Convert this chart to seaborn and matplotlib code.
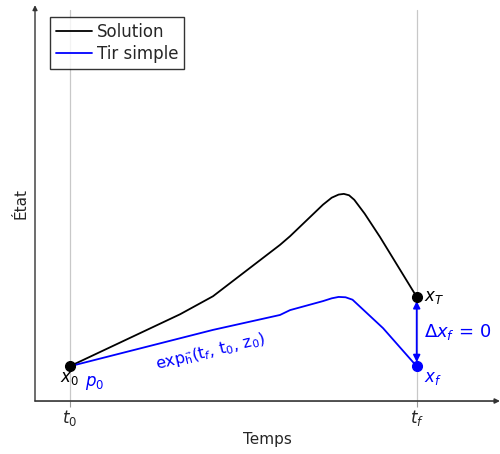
import numpy as np
import pandas as pd
import matplotlib
matplotlib.use("Agg")
import matplotlib.pyplot as plt
import seaborn as sns

# ---- data ----
sol_t = [1.0, 4.18, 5.13, 7.06, 7.35, 8.30, 8.55, 8.75, 8.90, 9.05, 9.20, 9.50, 9.94, 11.0]
sol_x = [1.0, 2.50, 3.02, 4.50, 4.75, 5.66, 5.86, 5.95, 5.97, 5.93, 5.80, 5.40, 4.73, 3.0]
tir_t = [1.0, 5.13, 7.06, 7.35, 8.30, 8.55, 8.75, 8.95, 9.15, 10.03, 11.0]
tir_x = [1.0, 2.05, 2.48, 2.62, 2.88, 2.96, 3.0, 2.99, 2.92, 2.10, 1.0]
series_names = ["Solution", "Tir simple"]
t_ticks = [1.0, 11.0]
t_tick_labels = [r"$t_0$", r"$t_f$"]
x0_val = 1.0
xT_val = 3.0
xf_val = 1.0

df = pd.DataFrame({
    "t": sol_t + tir_t,
    "x": sol_x + tir_x,
    "serie": [series_names[0]] * len(sol_t) + [series_names[1]] * len(tir_t),
})

sns.set_theme(style="white")
plt.rcParams["font.family"] = ["DejaVu Sans"]
plt.rcParams["mathtext.fontset"] = "dejavusans"

fig = plt.figure(figsize=(5.0, 4.54), dpi=100)
ax = fig.add_axes([0.07, 0.1167, 0.93, 0.872])

ax.set_xlim(0, 13.4)
ax.set_ylim(0, 11.41)

# vertical guide lines
for t in t_ticks:
    ax.plot([t, t], [0, 11.27], color="#c8c8c8", lw=0.9, zorder=0)

sns.lineplot(data=df, x="t", y="x", hue="serie", sort=False, estimator=None,
             palette={"Solution": "black", "Tir simple": "#0000ff"},
             linewidth=1.3, ax=ax, legend=True)

# points
ax.plot([t_ticks[0]], [x0_val], "o", color="black", ms=7, zorder=5)
ax.plot([t_ticks[1]], [xT_val], "o", color="black", ms=7, zorder=5)
ax.plot([t_ticks[1]], [xf_val], "o", color="#0000ff", ms=7, zorder=5)

# double arrow
ax.annotate("", xy=(t_ticks[1], xf_val + 0.12), xytext=(t_ticks[1], xT_val - 0.12),
            arrowprops=dict(arrowstyle="<|-|>", color="#0000ff", lw=1.3,
                            mutation_scale=10, shrinkA=0, shrinkB=0))

# labels
ax.text(t_ticks[0], x0_val - 0.35, r"$x_0$", ha="center", va="center", fontsize=12, color="black")
ax.text(t_ticks[0] + 0.72, x0_val - 0.47, r"$p_0$", ha="center", va="center", fontsize=12, color="#0000ff")
ax.text(t_ticks[1] + 0.2, xT_val, r"$x_T$", ha="left", va="center", fontsize=12, color="black")
ax.text(t_ticks[1] + 0.2, xf_val - 0.35, r"$x_f$", ha="left", va="center", fontsize=12, color="#0000ff")
ax.text(t_ticks[1] + 0.2, (xT_val + xf_val) / 2, r"$\Delta x_f\,=\,0$", ha="left", va="center",
        fontsize=13, color="#0000ff")
ax.text(5.05, 1.43, r"$\mathrm{exp}_{\vec{\mathrm{h}}}(\mathrm{t}_f,\,\mathrm{t}_0,\,\mathrm{z}_0)$",
        ha="center", va="center", fontsize=11.5, color="#0000ff", rotation=13.5,
        rotation_mode="anchor")

# axes styling
for s in ax.spines.values():
    s.set_visible(False)
ax.annotate("", xy=(1.0, 0), xytext=(0, 0), xycoords="axes fraction",
            arrowprops=dict(arrowstyle="-|>", color="#333333", lw=1.2, mutation_scale=7,
                            shrinkA=0, shrinkB=0))
ax.annotate("", xy=(0, 1.0), xytext=(0, 0), xycoords="axes fraction",
            arrowprops=dict(arrowstyle="-|>", color="#333333", lw=1.0, mutation_scale=7,
                            shrinkA=0, shrinkB=0))

ax.set_xticks(t_ticks)
ax.set_xticklabels(t_tick_labels, fontsize=12)
ax.tick_params(axis="x", bottom=True, length=4, width=0.8, color="#999999", pad=1)
ax.set_yticks([])
ax.set_xlabel("Temps", fontsize=11, labelpad=3)
ax.set_ylabel("État", fontsize=11, labelpad=5)

leg = ax.legend(loc="upper left", bbox_to_anchor=(0.032, 0.97), frameon=True, fancybox=False,
                edgecolor="black", fontsize=12, handlelength=2.2, handletextpad=0.25,
                borderpad=0.35, labelspacing=0.25, borderaxespad=0)
leg.get_frame().set_linewidth(1.0)
leg.set_title(None)

fig.savefig("out.png", dpi=100)
